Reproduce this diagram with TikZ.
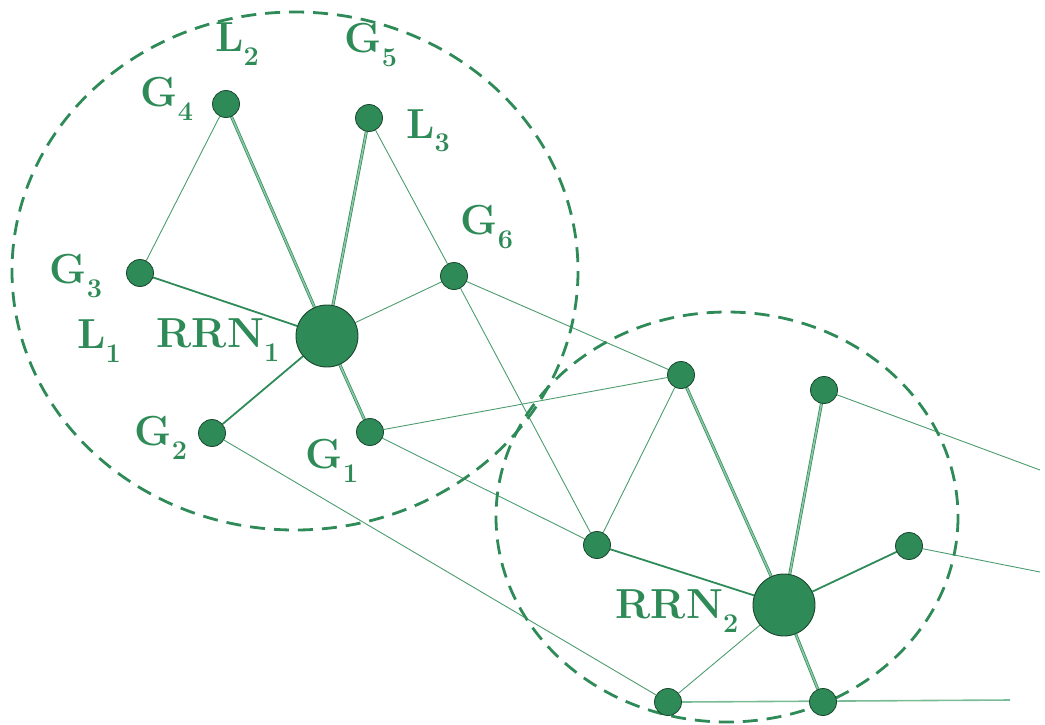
\documentclass[tikz,border=0pt]{standalone}
\usetikzlibrary{backgrounds}
\definecolor{gr}{RGB}{46,139,87}
\definecolor{grdark}{RGB}{25,70,45}
\definecolor{grlight}{RGB}{140,200,165}
\newcommand\lab[2]{#1\raisebox{-0.32em}{\fontsize{27}{30}\selectfont #2}}
\begin{document}
\begin{tikzpicture}[x=1pt,y=-1pt,
  small/.style={circle,fill=gr,draw=grdark,line width=0.8pt,minimum size=27pt,inner sep=0pt},
  big/.style={circle,fill=gr,draw=grdark,line width=0.9pt,minimum size=62pt,inner sep=0pt},
  thin/.style={draw=gr!85,line width=0.9pt},
  med/.style={draw=gr,line width=1.8pt},
  dbl/.style={draw=gr,line width=0.7pt,double=grlight,double distance=1.6pt},
  zone/.style={draw=gr,line width=2.8pt,dash pattern=on 15pt off 9pt},
  txt/.style={text=gr,font=\fontsize{42}{48}\selectfont\bfseries,inner sep=0pt}]
\useasboundingbox (0,0) rectangle (1045,724);
% zones
\draw[zone] (295,271) ellipse [x radius=283, y radius=259];
\draw[zone] (727,517) ellipse [x radius=231, y radius=205];
% nodes
\node[big] (R1) at (327,336) {};
\node[big] (R2) at (784,605) {};
\node[small] (G4) at (226,104) {};
\node[small] (G5) at (369,118) {};
\node[small] (G3) at (140,273) {};
\node[small] (G6) at (454,276) {};
\node[small] (G2) at (212,433) {};
\node[small] (G1) at (370,432) {};
\node[small] (A) at (681,375) {};
\node[small] (B) at (824,390) {};
\node[small] (C) at (597,545) {};
\node[small] (D) at (909,546) {};
\node[small] (E) at (668,702) {};
\node[small] (F) at (823,702) {};
\coordinate (Bo) at (1040,470);
\coordinate (Do) at (1040,572);
\coordinate (Fo) at (1010,700);
% edges
\begin{scope}[on background layer]
\draw[thin] (G4) -- (G3);
\draw[thin] (G5) -- (G6);
\draw[thin] (G6) -- (R1);
\draw[thin] (G6) -- (A);
\draw[thin] (G6) -- (C);
\draw[thin] (G1) -- (A);
\draw[thin] (G1) -- (C);
\draw[thin] (G2) -- (E);
\draw[thin] (A) -- (C);
\draw[thin] (B) -- (Bo);
\draw[thin] (D) -- (Do);
\draw[thin] (E) -- (R2);
\draw[draw=grlight!80!gr,line width=1.6pt] (E.east) -- (Fo);
\draw[med] (G3) -- (R1);
\draw[med] (G2) -- (R1);
\draw[med] (C) -- (R2);
\draw[med] (D) -- (R2);
\draw[dbl] (G4) -- (R1);
\draw[dbl] (G5) -- (R1);
\draw[dbl] (G1) -- (R1);
\draw[dbl] (A) -- (R2);
\draw[dbl] (B) -- (R2);
\draw[dbl] (F) -- (R2);
\end{scope}
% labels
\node[txt] (tL2) at (237,44) {\lab{L}{2}};
\node[txt] (tG4) at (167,99) {\lab{G}{4}};
\node[txt] (tG5) at (371,45) {\lab{G}{5}};
\node[txt] (tL3) at (428,131) {\lab{L}{3}};
\node[txt] (tG6) at (487,227) {\lab{G}{6}};
\node[txt] (tG3) at (76,276) {\lab{G}{3}};
\node[txt] (tL1) at (99,341) {\lab{L}{1}};
\node[txt] (tR1) at (218,340) {\lab{RRN}{1}};
\node[txt] (tG2) at (161,438) {\lab{G}{2}};
\node[txt] (tG1) at (332,461) {\lab{G}{1}};
\node[txt] (tR2) at (677,611) {\lab{RRN}{2}};
\end{tikzpicture}
\end{document}
